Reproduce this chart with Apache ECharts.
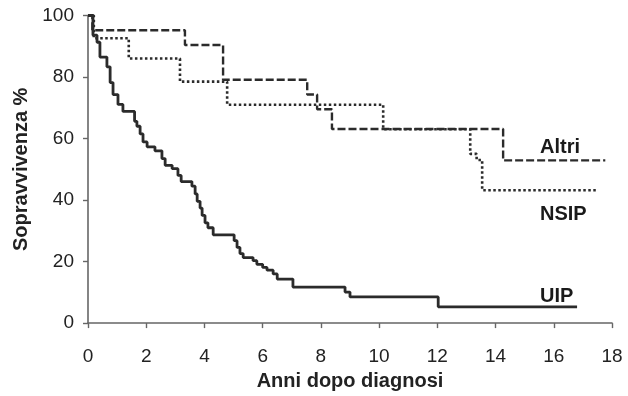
<!DOCTYPE html>
<html>
<head>
<meta charset="utf-8">
<script src="https://cdn.jsdelivr.net/npm/echarts@6/dist/echarts.min.js"></script>
<style>
html,body{margin:0;padding:0;background:#fff;}
#c{width:628px;height:396px;}
</style>
</head>
<body>
<div id="c"></div>
<script>
// Kaplan-Meier: time of each drop (years) and survival (%) after it
const uipTimes = [0, 0.17, 0.31, 0.41, 0.65, 0.76, 0.86, 1.03, 1.2, 1.6, 1.68, 1.79, 1.89, 2.03, 2.3, 2.54, 2.65, 2.89, 3.09, 3.2, 3.57, 3.68, 3.75, 3.85, 3.92, 4.02, 4.12, 4.3, 5.02, 5.12, 5.22, 5.33, 5.67, 5.8, 6.0, 6.15, 6.36, 6.5, 7.04, 8.83, 9.0, 12.03, 16.8];
const uipSurv  = [100, 93.6, 91.3, 86.5, 83.3, 78.2, 74.3, 71.1, 68.8, 65.6, 64, 61.5, 58.9, 57.3, 56, 53.5, 51.3, 50.2, 48, 46, 44.5, 42, 39.6, 37.4, 35, 32.6, 31, 28.7, 26.8, 24.6, 22.6, 21.3, 20.3, 19.1, 18.1, 17.2, 16, 14.3, 11.7, 10.1, 8.5, 5.3, 5.3];

const nsipTimes = [0, 0.2, 1.4, 3.16, 4.78, 10.14, 13.13, 13.35, 13.54, 17.5];
const nsipSurv  = [100, 92.6, 86, 78.5, 71, 63, 55, 53, 43.2, 43.2];

const altriTimes = [0, 0.15, 3.33, 4.64, 7.53, 7.87, 8.38, 14.26, 17.77];
const altriSurv  = [100, 95.2, 90.4, 79.1, 74.3, 69.5, 63.1, 52.9, 52.9];

const xTicks = [0, 2, 4, 6, 8, 10, 12, 14, 16, 18];
const yTicks = [0, 20, 40, 60, 80, 100];

const seriesNames = ['Altri', 'NSIP', 'UIP'];
const xTitle = 'Anni dopo diagnosi';
const yTitle = 'Sopravvivenza %';

function pairs(t, s) { return t.map((v, i) => [v, s[i]]); }

const chart = echarts.init(document.getElementById('c'));
const FONT = '"Liberation Sans", Arial, Helvetica, sans-serif';
const lineColor = '#2b2b2b';

chart.setOption({
  animation: false,
  backgroundColor: '#fff',
  grid: { left: 88, right: 16, top: 15.5, bottom: 69 },
  xAxis: {
    type: 'value', min: xTicks[0], max: xTicks[xTicks.length - 1], interval: 2,
    name: xTitle, nameLocation: 'middle', nameGap: 45,
    nameTextStyle: { fontFamily: FONT, fontSize: 20, fontWeight: 'bold', color: '#222' },
    axisLine: { lineStyle: { color: '#666', width: 1.6 } },
    axisTick: { length: 5, lineStyle: { color: '#666', width: 1.4 } },
    axisLabel: { margin: 24, fontFamily: FONT, fontSize: 19, color: '#222' },
    splitLine: { show: false }
  },
  yAxis: {
    type: 'value', min: yTicks[0], max: yTicks[yTicks.length - 1], interval: 20,
    name: yTitle, nameLocation: 'middle', nameGap: 56, nameRotate: 90,
    nameTextStyle: { fontFamily: FONT, fontSize: 20, fontWeight: 'bold', color: '#222' },
    axisLine: { show: true, lineStyle: { color: '#666', width: 1.6 } },
    axisTick: { show: true, length: 5, lineStyle: { color: '#666', width: 1.4 } },
    axisLabel: { margin: 14, fontFamily: FONT, fontSize: 19, color: '#222' },
    splitLine: { show: false }
  },
  series: [
    {
      name: seriesNames[0], type: 'line', step: 'end', showSymbol: false, clip: false,
      data: pairs(altriTimes, altriSurv),
      lineStyle: { color: lineColor, width: 2.4, type: [8, 3] }
    },
    {
      name: seriesNames[1], type: 'line', step: 'end', showSymbol: false, clip: false,
      data: pairs(nsipTimes, nsipSurv),
      lineStyle: { color: lineColor, width: 2.6, type: [2.5, 2.5] }
    },
    {
      name: seriesNames[2], type: 'line', step: 'end', showSymbol: false, clip: false,
      data: pairs(uipTimes, uipSurv),
      lineStyle: { color: lineColor, width: 2.8, type: 'solid' }
    }
  ],
  graphic: [
    { type: 'text', left: 540, top: 137, style: { text: seriesNames[0], font: 'bold 20px ' + FONT, fill: '#1a1a1a' } },
    { type: 'text', left: 540, top: 204, style: { text: seriesNames[1], font: 'bold 20px ' + FONT, fill: '#1a1a1a' } },
    { type: 'text', left: 540, top: 286, style: { text: seriesNames[2], font: 'bold 20px ' + FONT, fill: '#1a1a1a' } }
  ]
});
</script>
</body>
</html>
